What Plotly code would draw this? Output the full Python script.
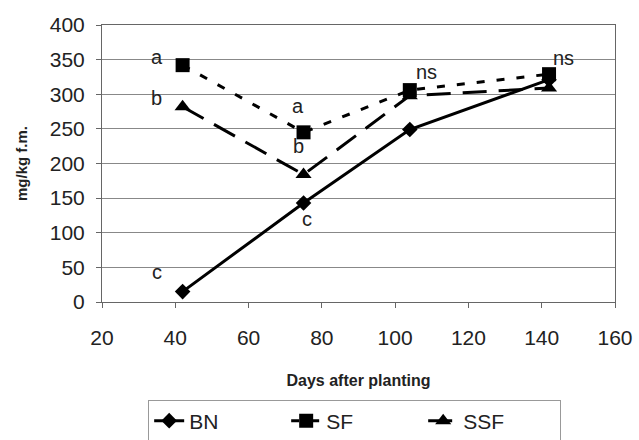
import plotly.graph_objects as go

days = [42, 75, 104, 142]
bn = [15, 143, 249, 321]
sf = [342, 245, 306, 329]
ssf = [282, 184, 298, 309]

ann_x = [35, 35, 35, 73.5, 73.5, 76, 108.5, 146]
ann_y = [354, 294, 44, 283, 226, 120, 332, 352]
ann_t = ["a", "b", "c", "a", "b", "c", "ns", "ns"]

FONT = "Liberation Sans, Arial, sans-serif"

fig = go.Figure()
fig.add_trace(go.Scatter(x=days, y=bn, name="BN", mode="lines+markers",
                         line=dict(color="black", width=3, dash="solid"),
                         marker=dict(symbol="diamond", size=12, color="black")))
fig.add_trace(go.Scatter(x=days, y=sf, name="SF", mode="lines+markers",
                         line=dict(color="black", width=3, dash="8px,12px"),
                         marker=dict(symbol="square", size=14, color="black")))
fig.add_trace(go.Scatter(x=days, y=ssf, name="SSF", mode="lines+markers",
                         line=dict(color="black", width=3, dash="24px,12px"),
                         marker=dict(symbol="triangle-up", size=14, color="black")))

for x, y, t in zip(ann_x, ann_y, ann_t):
    fig.add_annotation(x=x, y=y, text=t, showarrow=False,
                       font=dict(family=FONT, size=20, color="#222"))

fig.update_layout(
    width=639, height=440,
    margin=dict(l=102, r=24, t=25, b=138, autoexpand=False),
    paper_bgcolor="white", plot_bgcolor="white",
    font=dict(family=FONT, color="#222"),
    showlegend=True,
    legend=dict(orientation="h", x=0.09, xanchor="left", y=-0.352, yanchor="top",
                bordercolor="#999", borderwidth=1, font=dict(size=21, family=FONT),
                entrywidth=92, entrywidthmode="pixels", tracegroupgap=0),
    xaxis=dict(range=[20, 160], dtick=20, tick0=20, showgrid=False, automargin=False,
               showline=True, linecolor="#666", linewidth=1, mirror=True,
               ticks="outside", ticklen=5, tickcolor="#666", ticklabelstandoff=12,
               tickfont=dict(size=21, family=FONT),
               title=dict(text="<b>Days after planting</b>", font=dict(size=16, family=FONT), standoff=26)),
    yaxis=dict(range=[0, 400], dtick=50, showgrid=True, gridcolor="#888", gridwidth=1,
               automargin=False,
               showline=True, linecolor="#666", linewidth=1, mirror=True,
               ticks="outside", ticklen=5, tickcolor="#666", zeroline=False,
               ticklabelstandoff=7,
               tickfont=dict(size=21, family=FONT),
               title=dict(text="<b>mg/kg f.m.</b>", font=dict(size=15, family=FONT), standoff=18)),
)

fig.write_html("out.html", config={"displayModeBar": False},
               post_script="document.body.style.margin='0';")
